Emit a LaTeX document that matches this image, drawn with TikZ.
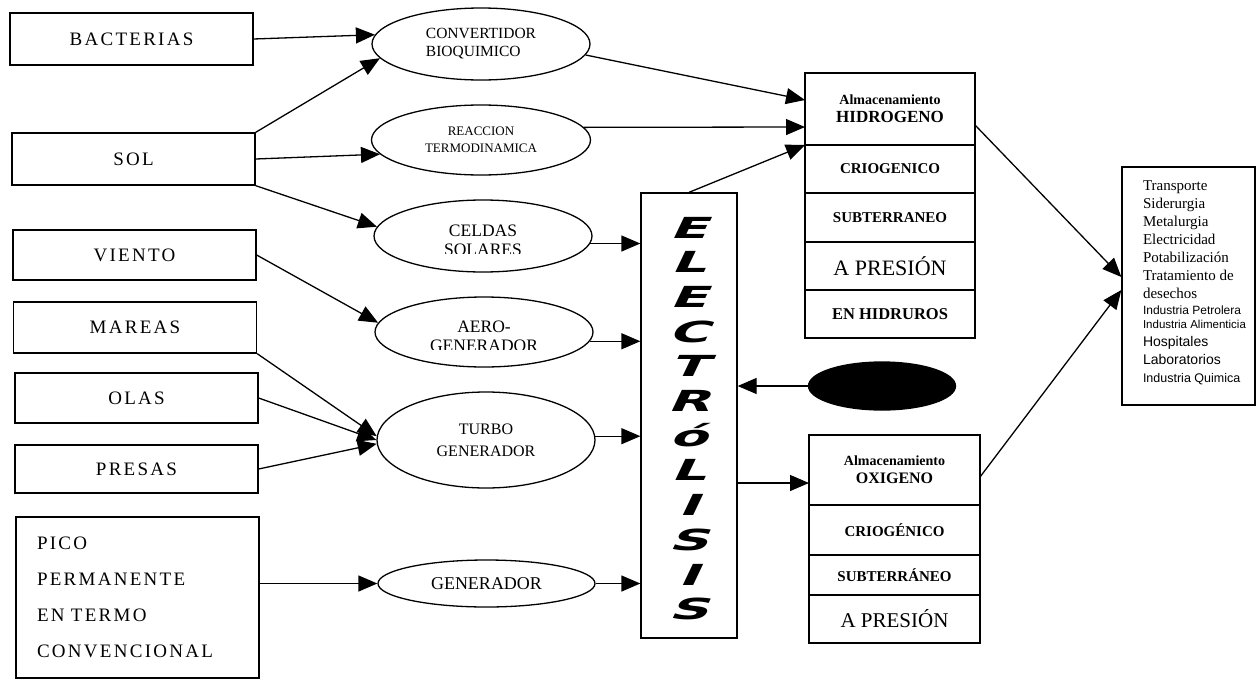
\documentclass[tikz,border=0pt]{standalone}
\usepackage{fontspec}
\usepackage{pdfrender}
\setmainfont{Liberation Serif}
\newfontfamily\usesans{Liberation Sans}
\newfontfamily\srcfont{Liberation Serif}[LetterSpace=12]
\newfontfamily\electrofont{DejaVu Sans Bold}[FakeSlant=0.25]
\newcommand\userm{\fontsize{15}{18}\selectfont\ignorespaces}
\newcommand\usess[1]{\usesans\fontsize{#1}{18}\selectfont\ignorespaces}
\newcommand\heavy[1]{\textpdfrender{TextRenderingMode=FillStroke, LineWidth=2.2pt}{\scalebox{1.9}[1]{#1}}}
\usetikzlibrary{positioning,arrows.meta,shapes.geometric}

\begin{document}
\begin{tikzpicture}[x=1pt, y=-1pt, line width=1.3pt,
    arr/.style={-{Triangle[length=19pt,width=16pt]}},
    srcbox/.style={draw, minimum width=243pt, minimum height=51pt, font=\srcfont\fontsize{19}{36}\selectfont},
    oval/.style={ellipse, draw, inner sep=0pt, align=center},
    cell/.style={draw, outer sep=0pt, inner sep=0pt, align=center, font=\bfseries\fontsize{15}{18}\selectfont},
    cuttext/.style={path picture={
        \clip ([yshift=-17pt]path picture bounding box.center) ++(-150pt,0pt) rectangle ++(300pt,100pt);
        \node[align=center, font=\fontsize{17.5}{19}\selectfont] at ([yshift=-4pt]path picture bounding box.center) {#1};}}]
  \useasboundingbox (0,0) rectangle (1260,680);

  % fuentes de energia
  \node[srcbox, minimum height=52pt] (bact) at (131.5,39) {BACTERIAS};
  \node[srcbox, minimum height=52pt] (sol) at (133.5,159) {SOL};
  \node[srcbox, minimum height=50pt] (viento) at (134.5,255) {VIENTO};
  \node[srcbox] (mareas) at (135,327.5) {MAREAS};
  \node[srcbox, minimum height=50pt] (olas) at (136.5,398) {OLAS};
  \node[srcbox, minimum height=48pt] (presas) at (136.5,469) {PRESAS};
  \node[srcbox, minimum height=161pt, align=left, text width=201pt, inner xsep=21pt] (pico) at (137.5,597.5) {PICO\\PERMANENTE\\EN TERMO\\CONVENCIONAL};

  % convertidores
  \node[oval, minimum width=218pt, minimum height=72pt, align=left, font=\fontsize{15.5}{18}\selectfont] (conv) at (481,44) {CONVERTIDOR\\BIOQUIMICO};
  \node[oval, minimum width=219pt, minimum height=70pt, font=\fontsize{13}{17}\selectfont] (reac) at (481,140) {REACCION\\TERMODINAMICA};
  \node[oval, minimum width=218pt, minimum height=72pt, cuttext={CELDAS\\SOLARES}] (celdas) at (483,236) {};
  \node[oval, minimum width=218pt, minimum height=70pt, cuttext={AERO-\\GENERADOR}] (aero) at (484,332) {};
  \node[oval, minimum width=218pt, minimum height=96pt, font=\fontsize{16}{22}\selectfont] (turbo) at (486,440) {TURBO\\GENERADOR};
  \node[oval, minimum width=217pt, minimum height=47pt, font=\fontsize{18}{22}\selectfont] (gen) at (486.5,583.5) {GENERADOR};

  % electrolisis
  \node[draw, minimum width=96pt, minimum height=445pt] (electro) at (689,415.5) {};
  \foreach \l [count=\i] in {E,L,E,C,T,R,ó,L,I,S,I,S}
    \node[anchor=base, inner sep=0pt, font=\electrofont\fontsize{29}{29}\selectfont] (let\i) at (688,{238+34.7*(\i-1)}) {\heavy{\l}};
  \node[ellipse, draw, fill=black, minimum width=147pt, minimum height=48pt] (agua) at (882,386) {};

  % almacenamiento hidrogeno
  \node[cell, minimum width=170pt, minimum height=72pt] (hidrohdr) at (890,109) {{\fontsize{14}{18}\selectfont Almacenamiento}\\{\fontsize{17}{18}\selectfont HIDROGENO}};
  \node[cell, minimum width=170pt, minimum height=48pt, below=0pt of hidrohdr] (hidrocrio) {CRIOGENICO};
  \node[cell, minimum width=170pt, minimum height=49pt, below=0pt of hidrocrio] (hidrosub) {SUBTERRANEO};
  \node[cell, minimum width=170pt, minimum height=48pt, below=0pt of hidrosub, font=\mdseries\fontsize{22}{24}\selectfont] (hidropres) {A PRESIÓN};
  \node[cell, minimum width=170pt, minimum height=48pt, below=0pt of hidropres, font=\bfseries\fontsize{16.5}{18}\selectfont] (hidrohid) {EN HIDRUROS};

  % almacenamiento oxigeno
  \node[cell, minimum width=171pt, minimum height=70pt] (oxihdr) at (894.5,470) {{\fontsize{14}{18}\selectfont Almacenamiento}\\{\fontsize{16}{18}\selectfont OXIGENO}};
  \node[cell, minimum width=171pt, minimum height=50pt, below=0pt of oxihdr] (oxicrio) {CRIOGÉNICO};
  \node[cell, minimum width=171pt, minimum height=40pt, below=0pt of oxicrio] (oxisub) {SUBTERRÁNEO};
  \node[cell, minimum width=171pt, minimum height=48pt, below=0pt of oxisub, font=\mdseries\fontsize{21}{24}\selectfont] (oxipres) {A PRESIÓN};
  \coordinate (oxiin) at ([yshift=-13pt]oxihdr.west);

  % usos
  \node[draw, minimum width=133pt, minimum height=238pt] (uses) at (1188.5,286) {};
  \node[anchor=west, align=left, inner sep=0pt, font=\fontsize{15}{18}\selectfont] (usetxt) at ([xshift=21pt,yshift=3pt]uses.west) {%
    \userm Transporte\\ \userm Siderurgia\\ \userm Metalurgia\\ \userm Electricidad\\ \userm Potabilización\\
    \userm Tratamiento de\\ \userm desechos\\[-2pt] \usess{12} Industria Petrolera\\[-4pt] \usess{11.5} Industria Alimenticia\\
    \usess{14} Hospitales\\ \usess{14} Laboratorios\\ \usess{12.5} Industria Quimica};

  % conexiones
  \draw[arr] (bact.east) -- (conv.175);
  \draw[arr] (sol.north east) -- (conv.188);
  \draw[arr] (sol.east) -- (reac.188);
  \draw[arr] (sol.south east) -- (celdas.175);
  \draw[arr] (viento.east) -- (aero.175);
  \draw[arr] (mareas.south east) -- (turbo.178);
  \draw[arr] (olas.east) -- (turbo.west);
  \draw[arr] (presas.east) -- (turbo.182);
  \draw[arr] (pico.east |- gen.west) -- (gen.west);
  \draw[arr] (celdas.-4) -- (celdas.-4 -| electro.west);
  \draw[arr] (aero.-5) -- (aero.-5 -| electro.west);
  \draw[arr] (turbo.2) -- (turbo.2 -| electro.west);
  \draw[arr] (gen.east) -- (gen.east -| electro.west);
  \draw[arr] (agua.west) -- (agua.west -| electro.east);
  \draw[arr] (electro.east |- oxiin) -- (oxiin);
  \draw[arr] (electro.north) -- (hidrohdr.south west);
  \draw[arr] (conv.-6) -- ([yshift=9pt]hidrohdr.west);
  \draw[arr] (reac.7) -- ([yshift=-18pt]hidrohdr.west);
  \draw[arr] ([yshift=-16pt]hidrohdr.east) -- ([yshift=9pt]uses.west);
  \draw[arr] ([yshift=-7pt]oxihdr.east) -- ([yshift=-4pt]uses.west);
\end{tikzpicture}
\end{document}
